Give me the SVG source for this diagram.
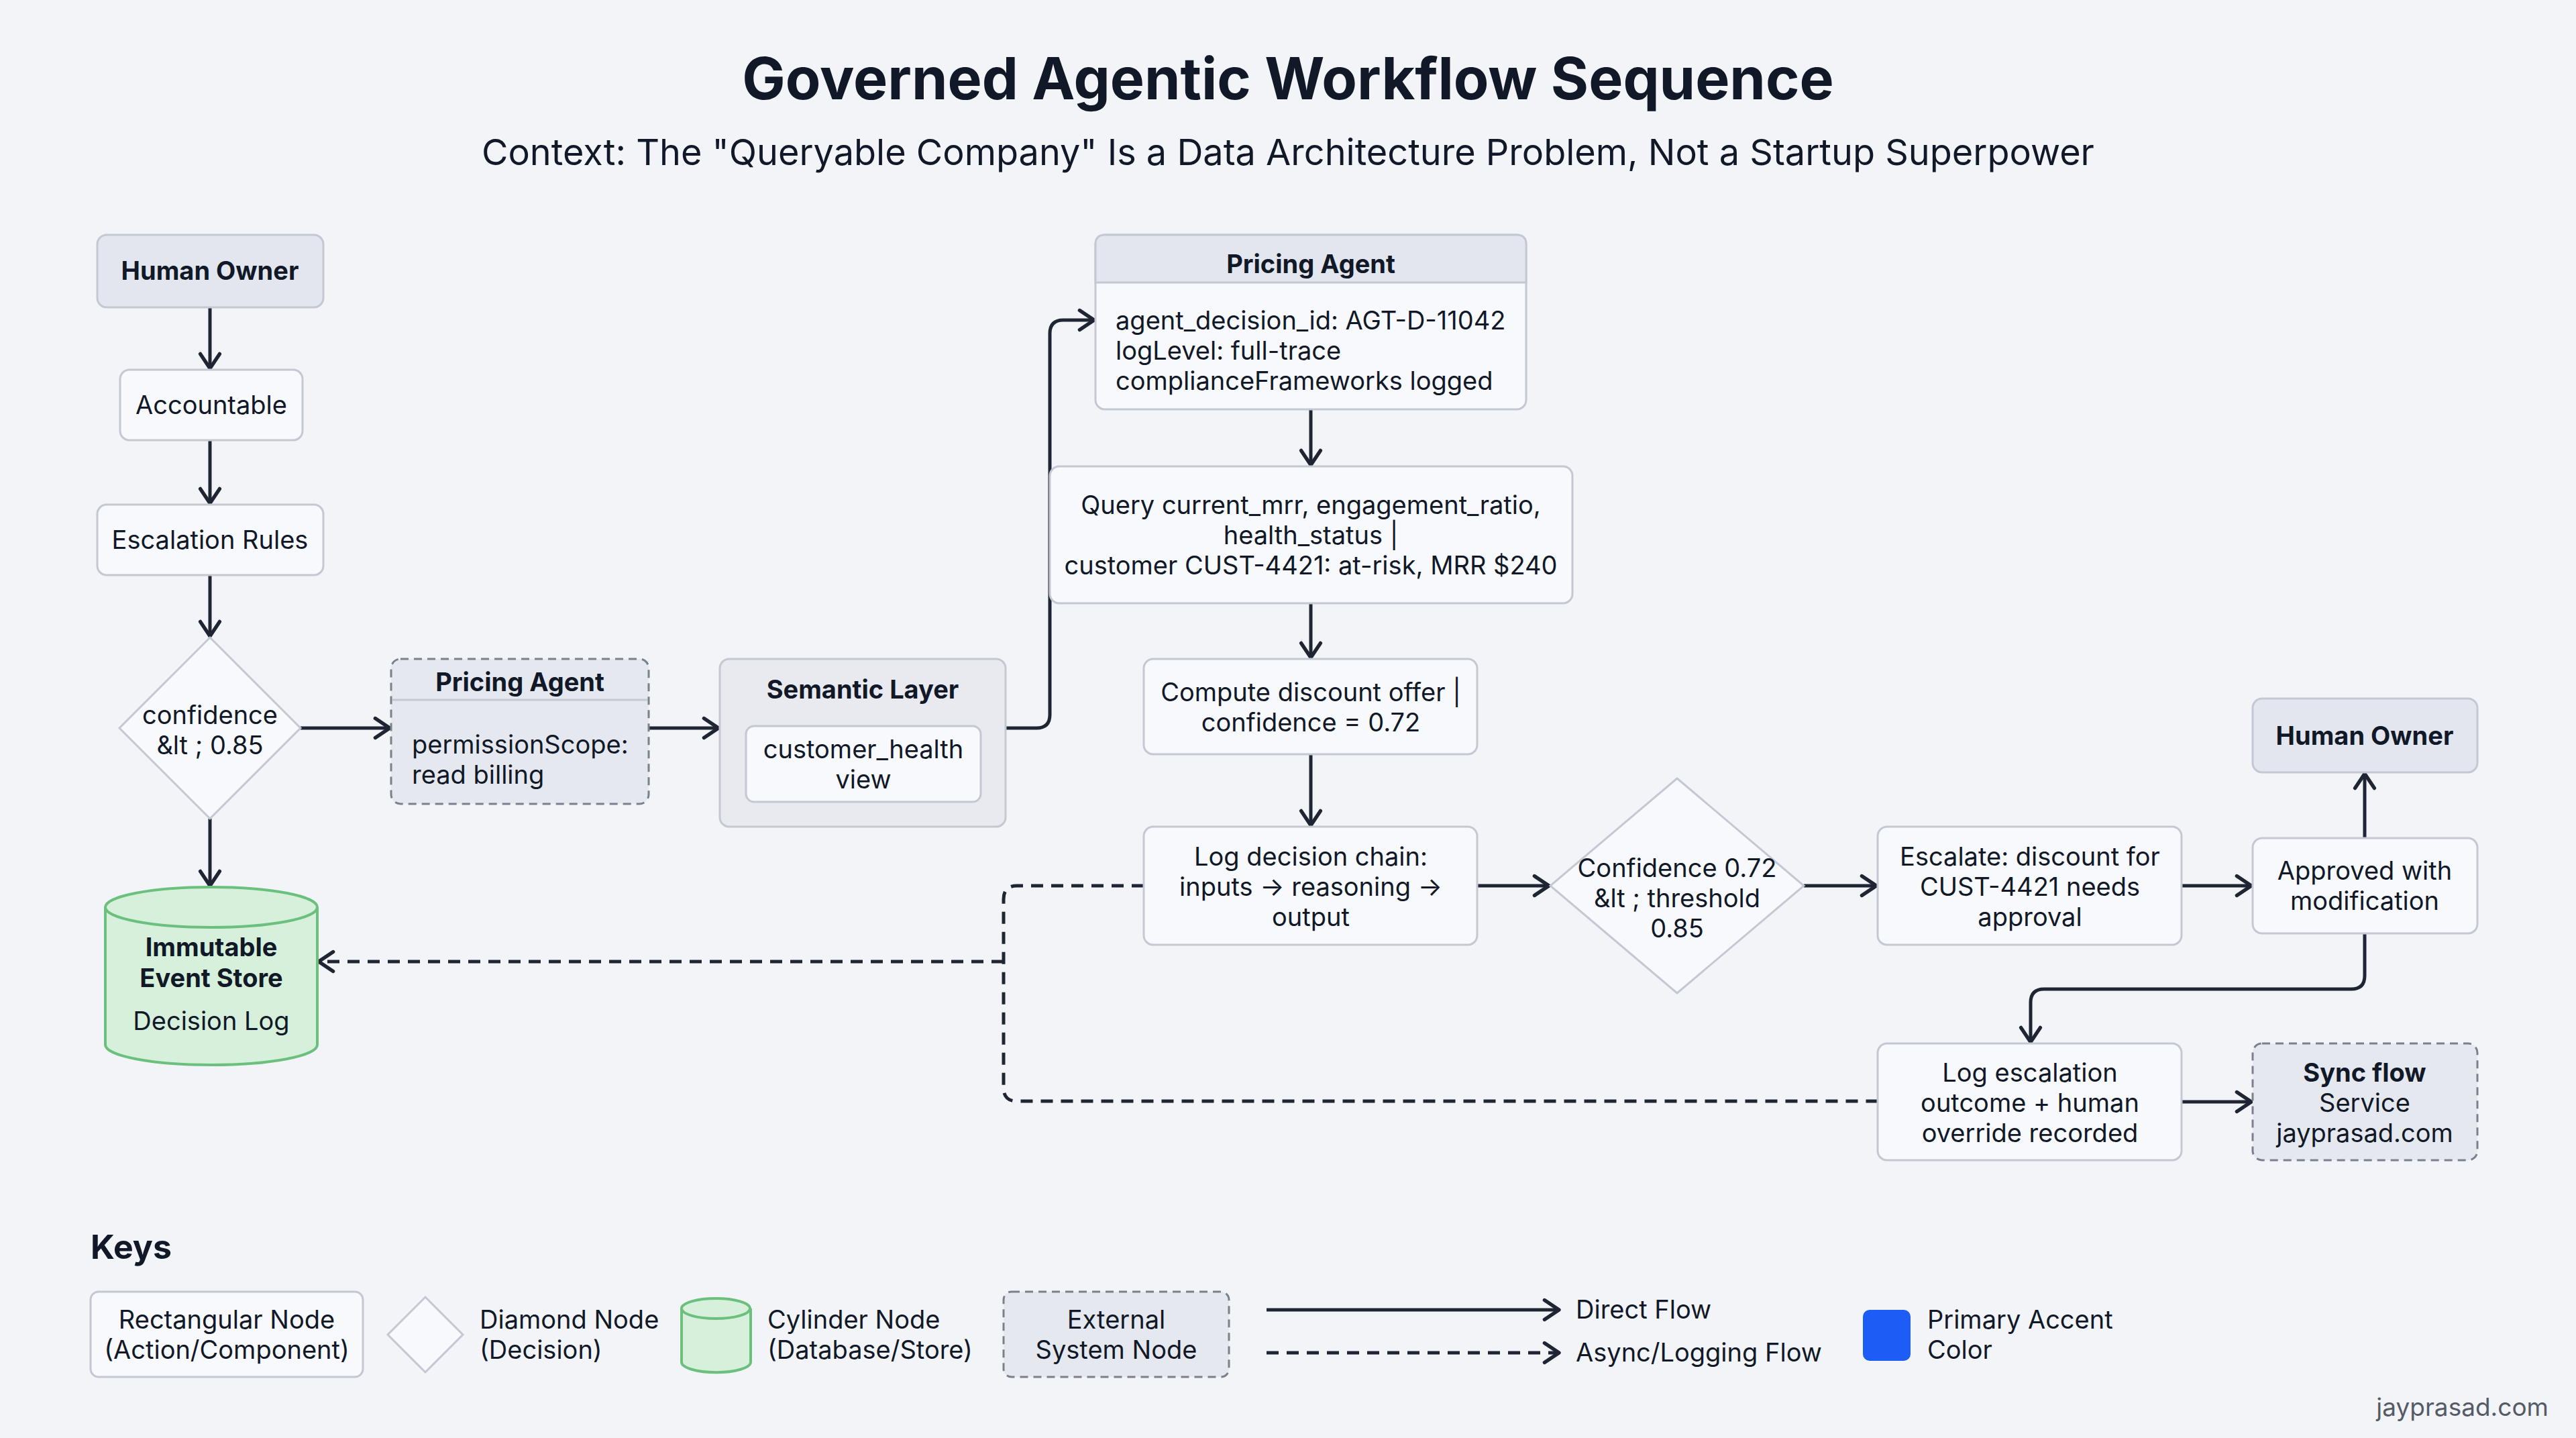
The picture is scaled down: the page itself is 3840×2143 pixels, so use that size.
<svg xmlns="http://www.w3.org/2000/svg" width="3840" height="2143" viewBox="0 0 3840 2143">
<style>
text{font-family:Inter,"Liberation Sans",sans-serif;fill:#111827;}
.t{font-size:38px;text-anchor:middle;}
.b{font-weight:700;}
.l{font-size:38px;}
.n{fill:#f8f9fc;stroke:#c3c8d2;stroke-width:3;}
.h{fill:#e3e6ee;stroke:#c3c8d2;stroke-width:3;}
.ext{fill:#e6e8ef;stroke:#7a808c;stroke-width:3;stroke-dasharray:12 8;}
.c{fill:none;stroke:#1f2533;stroke-width:5;}
.d{fill:none;stroke:#1f2533;stroke-width:5;stroke-dasharray:18 12;}
</style>
<defs>
<marker id="a" viewBox="0 0 20 20" refX="17" refY="10" markerWidth="36" markerHeight="36" markerUnits="userSpaceOnUse" orient="auto">
<path d="M5 2 L17 10 L5 18" fill="none" stroke="#1f2533" stroke-width="3" stroke-linecap="round" stroke-linejoin="round"/>
</marker>
</defs>
<rect width="3840" height="2143" fill="#f2f4f8"/>
<text x="1920" y="148" class="t b" style="font-size:86px">Governed Agentic Workflow Sequence</text>
<text x="1920" y="246" class="t" style="font-size:54px">Context: The "Queryable Company" Is a Data Architecture Problem, Not a Startup Superpower</text>

<g id="connectors">
<path class="c" marker-end="url(#a)" d="M313 458V549"/>
<path class="c" marker-end="url(#a)" d="M313 656V750"/>
<path class="c" marker-end="url(#a)" d="M313 857V948"/>
<path class="c" marker-end="url(#a)" d="M313 1220V1320"/>
<path class="c" marker-end="url(#a)" d="M448 1085H581"/>
<path class="c" marker-end="url(#a)" d="M967 1085H1071"/>
<path class="c" marker-end="url(#a)" d="M1499 1085H1545Q1565 1085 1565 1065V497Q1565 477 1585 477H1631"/>
<path class="c" marker-end="url(#a)" d="M1954 610V693"/>
<path class="c" marker-end="url(#a)" d="M1954 899V980"/>
<path class="c" marker-end="url(#a)" d="M1954 1124V1230"/>
<path class="c" marker-end="url(#a)" d="M2202 1320H2309"/>
<path class="c" marker-end="url(#a)" d="M2689 1320H2797"/>
<path class="c" marker-end="url(#a)" d="M3252 1320H3356"/>
<path class="c" marker-end="url(#a)" d="M3525 1249V1153"/>
<path class="c" marker-end="url(#a)" d="M3525 1391V1454Q3525 1474 3505 1474H3047Q3027 1474 3027 1494V1553"/>
<path class="c" marker-end="url(#a)" d="M3252 1642H3356"/>
<path class="d" d="M1705 1320H1516Q1496 1320 1496 1340V1621Q1496 1641 1516 1641H2799"/>
<path class="d" marker-end="url(#a)" d="M1496 1433H475"/>
</g>

<g id="human-owner-1"><rect class="h" x="145" y="350" width="337" height="108" rx="14"/><text x="313" y="417" class="t b">Human Owner</text></g>
<g id="accountable"><rect class="n" x="179" y="551" width="272" height="105" rx="14"/><text x="315" y="617" class="t">Accountable</text></g>
<g id="escalation-rules"><rect class="n" x="145" y="752" width="337" height="105" rx="14"/><text x="313" y="818" class="t">Escalation Rules</text></g>
<g id="confidence-diamond"><path class="n" d="M313 950L448 1085L313 1220L178 1085Z"/><text x="313" y="1079" class="t">confidence</text><text x="313" y="1124" class="t">&amp;lt ; 0.85</text></g>
<g id="event-store">
<path d="M157 1352V1557A158 30 0 0 0 473 1557V1352" fill="#d6f0db" stroke="#6cc07e" stroke-width="4"/>
<ellipse cx="315" cy="1352" rx="158" ry="30" fill="#d6f0db" stroke="#6cc07e" stroke-width="4"/>
<text x="315" y="1425" class="t b">Immutable</text><text x="315" y="1471" class="t b">Event Store</text><text x="315" y="1535" class="t">Decision Log</text></g>
<g id="pricing-agent-ext"><rect class="ext" x="583" y="982" width="384" height="216" rx="14"/><line x1="585" y1="1043" x2="965" y2="1043" stroke="#c3c8d2" stroke-width="3"/><text x="775" y="1040" class="t b" dy="-10">Pricing Agent</text><text x="614" y="1123" class="l">permissionScope:</text><text x="614" y="1168" class="l">read billing</text></g>
<g id="semantic-layer"><rect class="h" x="1073" y="982" width="426" height="250" rx="14" style="fill:#e8eaf0"/><text x="1286" y="1041" class="t b">Semantic Layer</text><rect class="n" x="1112" y="1082" width="350" height="113" rx="12"/><text x="1287" y="1130" class="t">customer_health</text><text x="1287" y="1175" class="t">view</text></g>
<g id="pricing-agent"><rect class="n" x="1633" y="350" width="642" height="260" rx="14"/><path class="h" d="M1633 421V364Q1633 350 1647 350H2261Q2275 350 2275 364V421Z"/><text x="1954" y="407" class="t b">Pricing Agent</text><text x="1663" y="491" class="l">agent_decision_id: AGT-D-11042</text><text x="1663" y="536" class="l">logLevel: full-trace</text><text x="1663" y="581" class="l">complianceFrameworks logged</text></g>
<g id="query"><rect class="n" x="1565" y="695" width="779" height="204" rx="14"/><text x="1954" y="766" class="t">Query current_mrr, engagement_ratio,</text><text x="1954" y="811" class="t">health_status |</text><text x="1954" y="856" class="t">customer CUST-4421: at-risk, MRR $240</text></g>
<g id="compute"><rect class="n" x="1705" y="982" width="497" height="142" rx="14"/><text x="1954" y="1045" class="t">Compute discount offer |</text><text x="1954" y="1090" class="t">confidence = 0.72</text></g>
<g id="log-decision"><rect class="n" x="1705" y="1232" width="497" height="176" rx="14"/><text x="1954" y="1290" class="t">Log decision chain:</text><text x="1954" y="1335" class="t">inputs → reasoning →</text><text x="1954" y="1380" class="t">output</text></g>
<g id="confidence-threshold"><path class="n" d="M2500 1160L2689 1320L2500 1480L2311 1320Z"/><text x="2500" y="1307" class="t">Confidence 0.72</text><text x="2500" y="1352" class="t">&amp;lt ; threshold</text><text x="2500" y="1397" class="t">0.85</text></g>
<g id="escalate"><rect class="n" x="2799" y="1232" width="453" height="176" rx="14"/><text x="3026" y="1290" class="t">Escalate: discount for</text><text x="3026" y="1335" class="t">CUST-4421 needs</text><text x="3026" y="1380" class="t">approval</text></g>
<g id="approved"><rect class="n" x="3358" y="1249" width="335" height="142" rx="14"/><text x="3525" y="1311" class="t">Approved with</text><text x="3525" y="1356" class="t">modification</text></g>
<g id="human-owner-2"><rect class="h" x="3358" y="1041" width="335" height="110" rx="14"/><text x="3525" y="1110" class="t b">Human Owner</text></g>
<g id="log-escalation"><rect class="n" x="2799" y="1555" width="453" height="174" rx="14"/><text x="3026" y="1612" class="t">Log escalation</text><text x="3026" y="1657" class="t">outcome + human</text><text x="3026" y="1702" class="t">override recorded</text></g>
<g id="sync-flow"><rect class="ext" x="3358" y="1555" width="335" height="174" rx="14"/><text x="3525" y="1612" class="t b">Sync flow</text><text x="3525" y="1657" class="t">Service</text><text x="3525" y="1702" class="t">jayprasad.com</text></g>

<g id="keys">
<text x="135" y="1876" class="b" style="font-size:50px">Keys</text>
<rect class="n" x="135" y="1925" width="406" height="127" rx="12"/><text x="338" y="1980" class="t">Rectangular Node</text><text x="338" y="2025" class="t">(Action/Component)</text>
<path class="n" d="M634 1933L690 1989L634 2045L578 1989Z"/>
<text x="715" y="1980" class="l">Diamond Node</text><text x="715" y="2025" class="l">(Decision)</text>
<path d="M1016 1950V2030A51 15 0 0 0 1119 2030V1950" fill="#d6f0db" stroke="#6cc07e" stroke-width="4"/>
<ellipse cx="1067" cy="1950" rx="51" ry="15" fill="#d6f0db" stroke="#6cc07e" stroke-width="4"/>
<text x="1144" y="1980" class="l">Cylinder Node</text><text x="1144" y="2025" class="l">(Database/Store)</text>
<rect class="ext" x="1496" y="1925" width="336" height="127" rx="12"/><text x="1664" y="1980" class="t">External</text><text x="1664" y="2025" class="t">System Node</text>
<path class="c" marker-end="url(#a)" d="M1888 1952H2324"/>
<path class="d" marker-end="url(#a)" d="M1888 2016H2324"/>
<text x="2349" y="1965" class="l">Direct Flow</text><text x="2349" y="2029" class="l">Async/Logging Flow</text>
<rect x="2777" y="1952" width="71" height="76" rx="10" fill="#1d5cf5"/>
<text x="2873" y="1980" class="l">Primary Accent</text><text x="2873" y="2025" class="l">Color</text>
</g>
<text x="3799" y="2110" style="font-size:37px;text-anchor:end;fill:#555b66">jayprasad.com</text>
</svg>
